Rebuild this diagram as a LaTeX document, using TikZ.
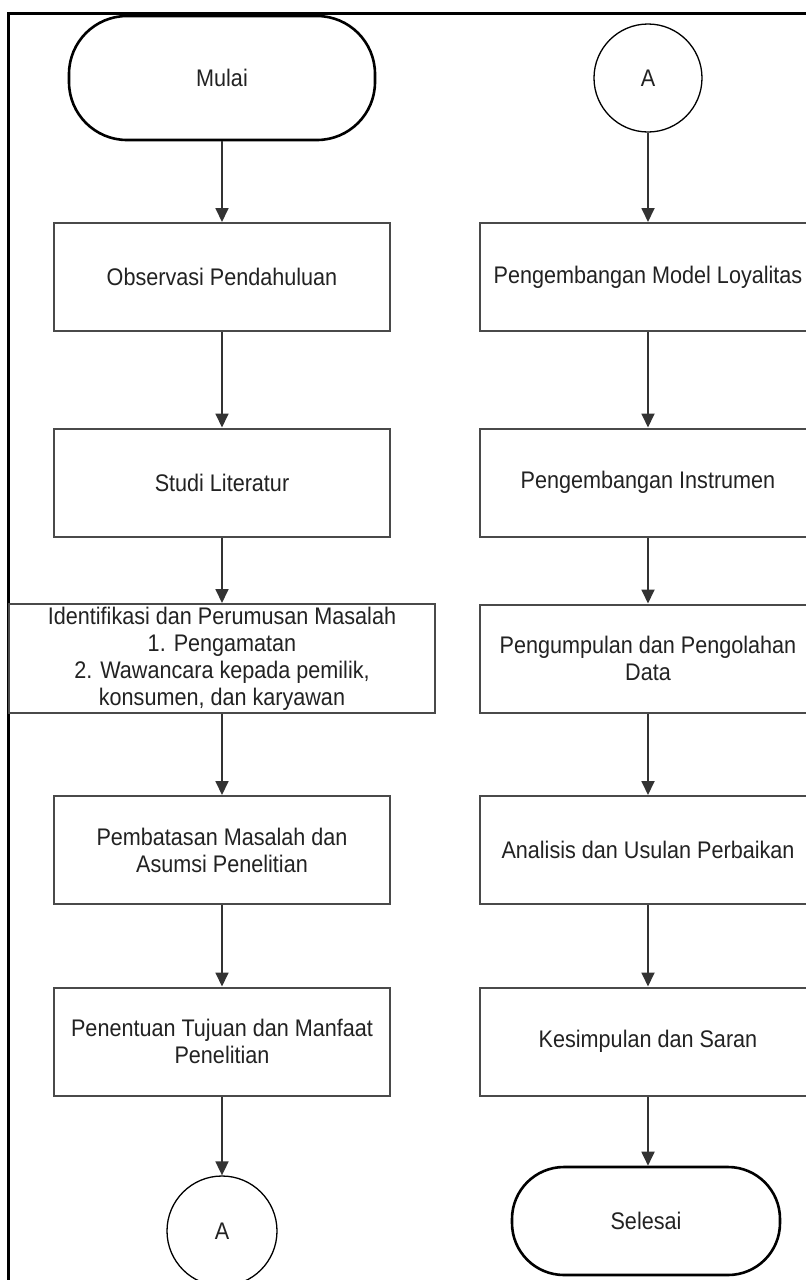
\documentclass[tikz,border=0pt]{standalone}
\usepackage{fontspec}
\setmainfont{Liberation Sans}[FakeStretch=0.9]
\usetikzlibrary{arrows.meta}
\definecolor{boxgray}{HTML}{4A4A4A}
\definecolor{txt}{HTML}{222222}
\definecolor{arrgray}{HTML}{333333}
\tikzset{
  txtfont/.style={font=\fontsize{24}{27}\selectfont},
  stepbox/.style={draw=boxgray, line width=2pt, minimum width=336pt, minimum height=108pt,
    inner sep=0pt, align=center, text=txt, txtfont},
  widebox/.style={stepbox, minimum width=426pt, minimum height=109pt},
  terminal/.style={draw=black, line width=2.6pt, inner sep=0pt, text=txt, txtfont},
  connector/.style={circle, draw=black, line width=1.3pt, inner sep=0pt, text=txt, txtfont},
  arr/.style={draw=arrgray, line width=1.8pt, -{Triangle[length=14pt,width=13pt]}},
}
\begin{document}
\begin{tikzpicture}[x=1pt,y=-1pt]
\clip (0,0) rectangle (806,1280);
\fill[white] (0,0) rectangle (806,1280);
% frame
\draw[line width=3pt, black] (8,1300) -- (8,13) -- (830,13);

% left column
\node[terminal, minimum width=306pt, minimum height=124pt, rounded corners=58pt] (mulai) at (222,78) {Mulai};
\node[stepbox] (obs) at (222,277) {Observasi Pendahuluan};
\node[stepbox] (lit) at (222,482.5) {Studi Literatur};
\node[widebox] (ident) at (222,658.5) {Identifikasi dan Perumusan Masalah\\1. Pengamatan\\2. Wawancara kepada pemilik,\\konsumen, dan karyawan};
\node[stepbox] (batas) at (222,850) {Pembatasan Masalah dan\\Asumsi Penelitian};
\node[stepbox] (tujuan) at (222,1041.5) {Penentuan Tujuan dan Manfaat\\Penelitian};
\node[connector, minimum size=110pt] (aout) at (222,1231) {A};

% right column
\node[connector, minimum size=108pt] (ain) at (648,78) {A};
\node[stepbox] (model) at (648,277) {Pengembangan Model Loyalitas};
\node[stepbox] (instr) at (648,482.5) {Pengembangan Instrumen};
\node[stepbox] (kumpul) at (648,658.5) {Pengumpulan dan Pengolahan\\Data};
\node[stepbox] (analisis) at (648,850) {Analisis dan Usulan Perbaikan};
\node[stepbox] (simpul) at (648,1041.5) {Kesimpulan dan Saran};
\node[terminal, minimum width=268pt, minimum height=108pt, rounded corners=52pt] (selesai) at (646,1221) {Selesai};

% connectors
\draw[arr] (mulai.south) -- (obs.north);
\draw[arr] (obs) -- (lit);
\draw[arr] (lit) -- (ident);
\draw[arr] (ident) -- (batas);
\draw[arr] (batas) -- (tujuan);
\draw[arr] (tujuan) -- (aout);
\draw[arr] (ain) -- (model);
\draw[arr] (model) -- (instr);
\draw[arr] (instr) -- (kumpul);
\draw[arr] (kumpul) -- (analisis);
\draw[arr] (analisis) -- (simpul);
\draw[arr] (simpul.south) -- (simpul.south |- selesai.north);
\end{tikzpicture}
\end{document}
